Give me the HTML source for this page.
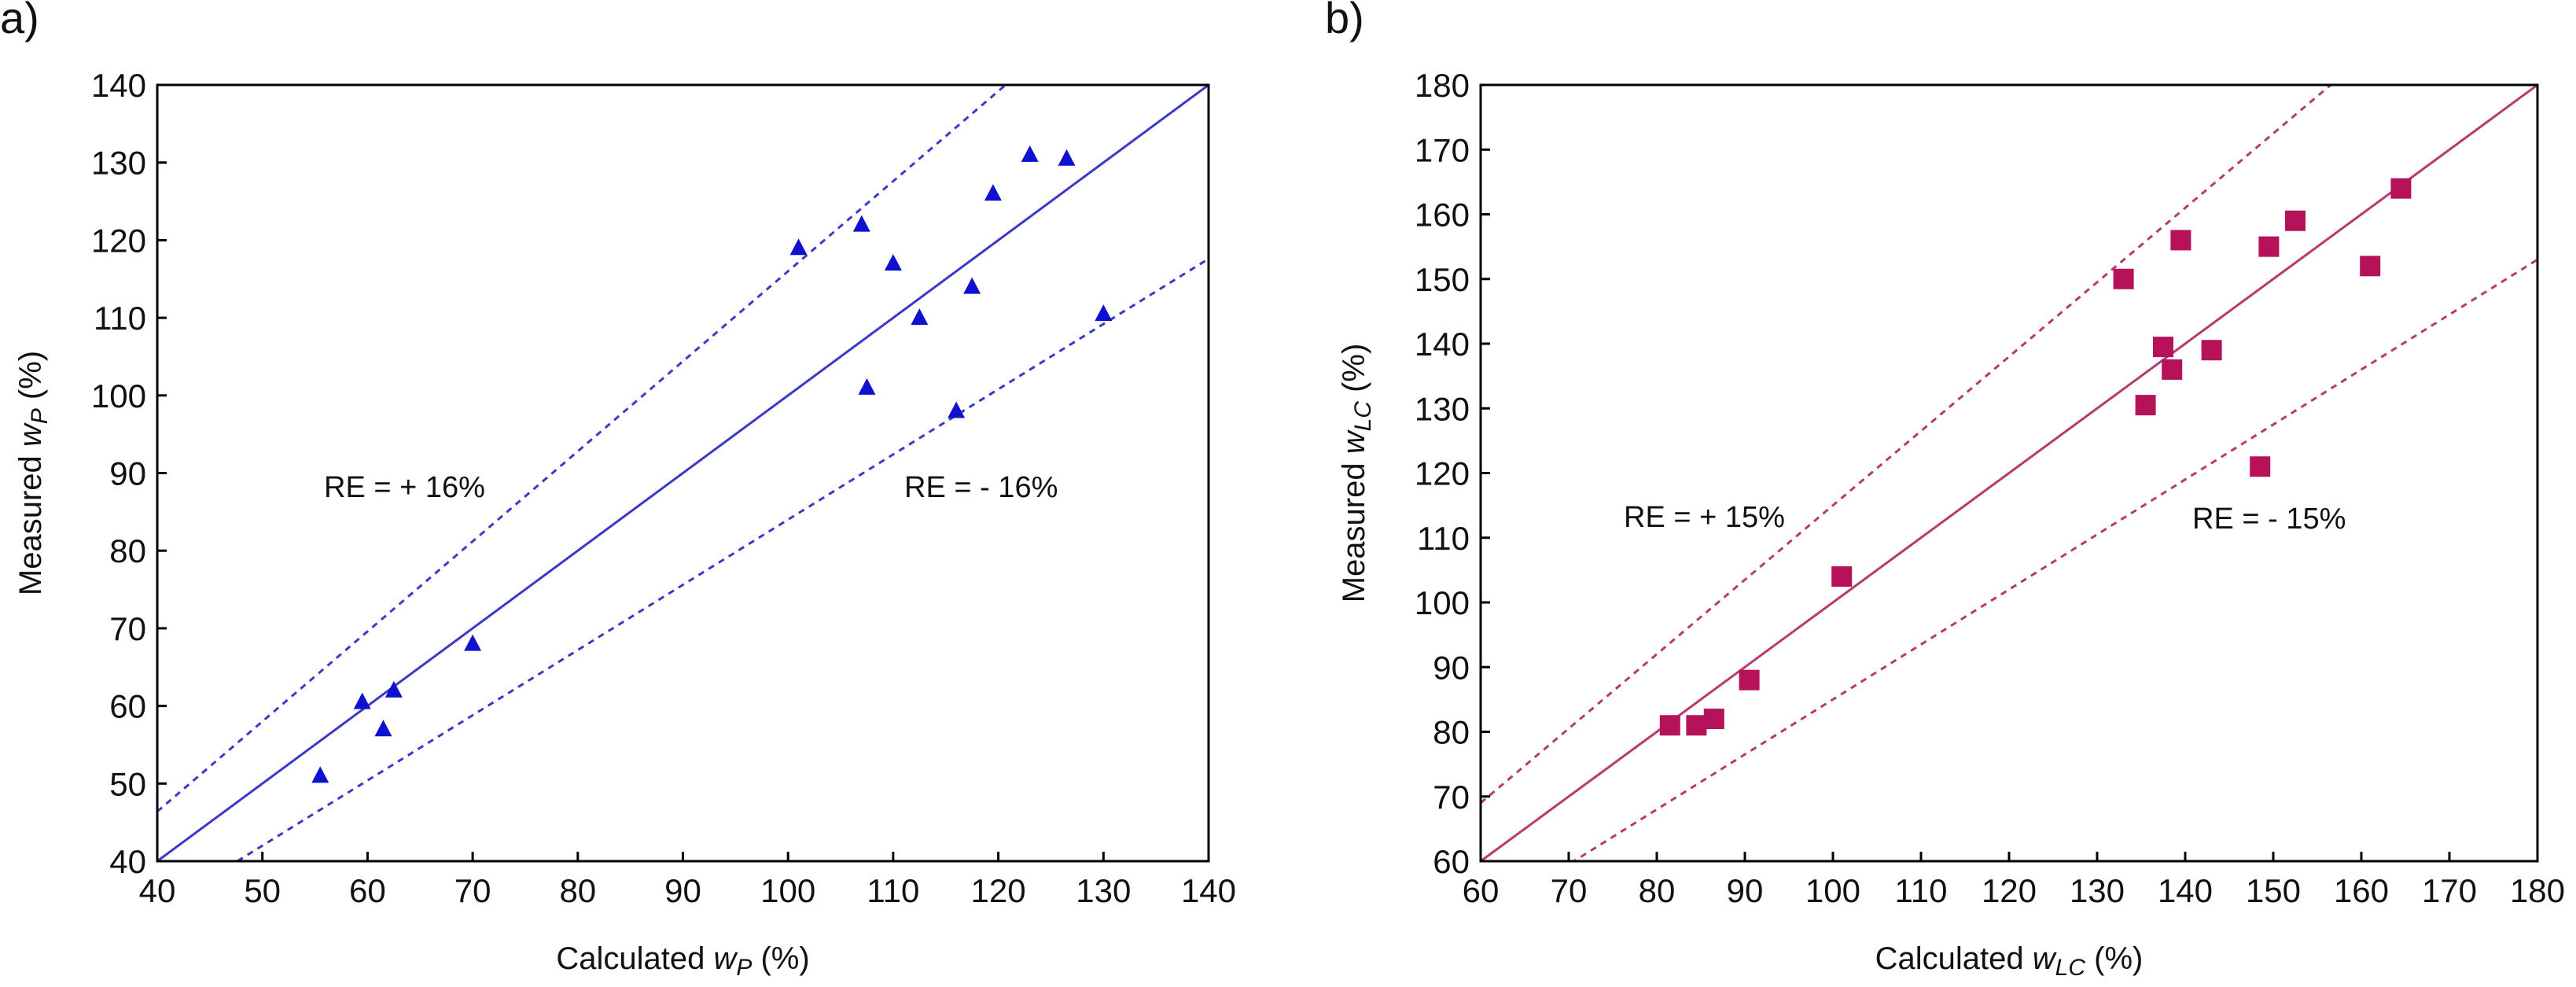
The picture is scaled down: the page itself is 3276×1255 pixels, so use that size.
<!DOCTYPE html>
<html><head><meta charset="utf-8"><style>
body{margin:0;background:#fff;}
svg text{font-family:"Liberation Sans",Arial,sans-serif;fill:#111;}
</style></head><body>
<svg id="s" width="3276" height="1250" xmlns="http://www.w3.org/2000/svg">
<text x="0" y="42" font-size="56">a)</text>
<text x="1685" y="42" font-size="56">b)</text>
<g id="ga"></g>
<g id="gb"></g>
</svg>
<script>
const aX=[55.5,59.5,61.5,62.5,70,101,107,107.5,110,112.5,116,117.5,119.5,123,126.5,130];
const aY=[51,60.5,57,62,68,119,122,101,117,110,98,114,126,131,130.5,110.5];
const aTicks=[40,50,60,70,80,90,100,110,120,130,140];
const bX=[81.5,84.5,86.5,90.5,101,133,135.5,137.5,138.5,139.5,143,148.5,149.5,152.5,161,164.5];
const bY=[81,81,82,88,104,150,130.5,139.5,136,156,139,121,155,159,152,164];
const bTicks=[60,70,80,90,100,110,120,130,140,150,160,170,180];
const NS="http://www.w3.org/2000/svg";
function mk(p,t,a){const e=document.createElementNS(NS,t);for(const k in a)e.setAttribute(k,a[k]);p.appendChild(e);return e;}
function chart(g,L,R,min,max,ticks,xs,ys,col,lineCol,up,lo,sub,ann,marker){
 const T=108,B=1095;
 const sx=v=>L+(v-min)/(max-min)*(R-L), sy=v=>B-(v-min)/(max-min)*(B-T);
 const cp="clip"+sub; const d=mk(g,'defs',{}); const c=mk(d,'clipPath',{id:cp}); mk(c,'rect',{x:L,y:T,width:R-L,height:B-T});
 const lg=mk(g,'g',{'clip-path':'url(#'+cp+')'});
 let l=mk(lg,'line',{x1:sx(min),y1:sy(min),x2:sx(max),y2:sy(max),stroke:lineCol,'stroke-width':3});
 
 l=mk(lg,'line',{x1:sx(min),y1:sy(min*up),x2:sx(max),y2:sy(max*up),stroke:lineCol,'stroke-width':3,'stroke-dasharray':'8 7'});
 
 l=mk(lg,'line',{x1:sx(min),y1:sy(min*lo),x2:sx(max),y2:sy(max*lo),stroke:lineCol,'stroke-width':3,'stroke-dasharray':'8 7'});
 
 const fr=mk(g,'rect',{x:L,y:T,width:R-L,height:B-T,fill:'none',stroke:'#000','stroke-width':3});
 
 ticks.forEach(v=>{
  mk(g,'line',{x1:sx(v),y1:B,x2:sx(v),y2:B-12,stroke:'#000','stroke-width':3});
  mk(g,'line',{x1:L,y1:sy(v),x2:L+12,y2:sy(v),stroke:'#000','stroke-width':3});
  let t=mk(g,'text',{x:sx(v),y:B+52,'font-size':42,'text-anchor':'middle'});t.textContent=v;
  
  t=mk(g,'text',{x:L-14,y:sy(v)+15,'font-size':42,'text-anchor':'end'});t.textContent=v;
  
 });
 xs.forEach((x,i)=>{
  const px=sx(x),py=sy(ys[i]);let m;
  if(marker==='tri')m=mk(g,'polygon',{points:`${px},${py-12} ${px-11},${py+9} ${px+11},${py+9}`,fill:col});
  else m=mk(g,'rect',{x:px-13,y:py-13,width:26,height:26,fill:col});
  
 });
 let t=mk(g,'text',{x:(L+R)/2,y:1232,'font-size':40,'text-anchor':'middle'});
 t.innerHTML='Calculated <tspan font-style="italic">w</tspan><tspan font-style="italic" font-size="30" dy="8">'+sub+'</tspan><tspan dy="-8"> (%)</tspan>';
 
 const cx=L-148,cy=(T+B)/2;
 t=mk(g,'text',{x:cx,y:cy,'font-size':40,'text-anchor':'middle',transform:`rotate(-90 ${cx} ${cy})`});
 t.innerHTML='Measured <tspan font-style="italic">w</tspan><tspan font-style="italic" font-size="30" dy="8">'+sub+'</tspan><tspan dy="-8"> (%)</tspan>';
 
 ann.forEach(a=>{t=mk(g,'text',{x:a[0],y:a[1],'font-size':38});t.textContent=a[2];
  });
}
chart(document.getElementById('ga'),200,1537,40,140,aTicks,aX,aY,'#1010d0','#3a3ac8',1.16,0.84,'P',
 [[412,632,'RE = + 16%'],[1150,632,'RE = - 16%']],'tri');
chart(document.getElementById('gb'),1883,3227,60,180,bTicks,bX,bY,'#b5125a','#b83a6a',1.15,0.85,'LC',
 [[2065,670,'RE = + 15%'],[2788,672,'RE = - 15%']],'sq');
</script>
</body></html>
